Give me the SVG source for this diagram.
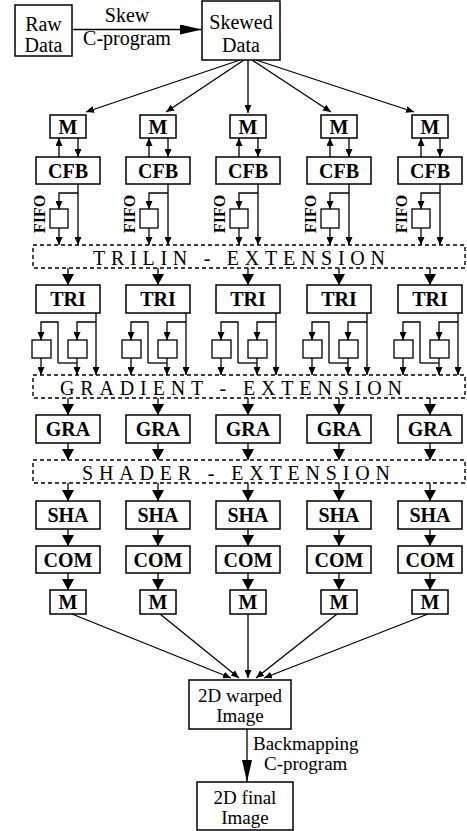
<svg xmlns="http://www.w3.org/2000/svg" width="467" height="831" viewBox="0 0 467 831">
<style>
.bx{fill:#fff;stroke:#000;stroke-width:1.5}
.sm{fill:#fff;stroke:#000;stroke-width:1.3}
.dx{fill:none;stroke:#000;stroke-width:1.4;stroke-dasharray:4 3}
.t{font-family:"Liberation Serif","Times New Roman",serif;font-size:20px;fill:#000;text-anchor:middle}
.t2{font-family:"Liberation Serif","Times New Roman",serif;font-size:19px;fill:#000;text-anchor:middle}
.b{font-family:"Liberation Serif","Times New Roman",serif;font-size:20px;font-weight:bold;fill:#000;text-anchor:middle}
.f{font-family:"Liberation Serif","Times New Roman",serif;font-size:16px;font-weight:bold;fill:#000;text-anchor:middle}
.e{font-family:"Liberation Serif","Times New Roman",serif;font-size:20px;fill:#000}
.e2{font-family:"Liberation Serif","Times New Roman",serif;font-size:19px;fill:#000}
.c path,.c line{fill:none;stroke:#000;stroke-width:1.3}
.s{marker-end:url(#ms)}
.g{marker-end:url(#mb)}
</style>
<defs>
<marker id="ms" markerUnits="userSpaceOnUse" markerWidth="9" markerHeight="7" refX="8" refY="3.5" orient="auto"><path d="M0,0 L8,3.5 L0,7 z" fill="#000"/></marker>
<marker id="mb" markerUnits="userSpaceOnUse" markerWidth="12" markerHeight="12" refX="11" refY="6" orient="auto"><path d="M0,0 L11,6 L0,12 z" fill="#000"/></marker>
<marker id="mh" markerUnits="userSpaceOnUse" markerWidth="24" markerHeight="12" refX="22" refY="5" orient="auto"><path d="M0,0 L22,5 L0,10 z" fill="#000"/></marker>
</defs>
<rect width="467" height="831" fill="#fff"/>

<g id="connectors" class="c">
<line x1="72" y1="29.5" x2="202" y2="29.5" marker-end="url(#mh)"/>
<line x1="240" y1="60" x2="86" y2="112" class="s"/>
<line x1="244" y1="60" x2="166" y2="112" class="s"/>
<line x1="248" y1="60" x2="248" y2="113" class="s"/>
<line x1="252" y1="60" x2="331" y2="112" class="s"/>
<line x1="256" y1="60" x2="414" y2="112" class="s"/>

<!-- col1 c=68 -->
<line x1="59" y1="157" x2="59" y2="138" class="s"/>
<line x1="78" y1="138" x2="78" y2="157" class="s"/>
<line x1="78" y1="184" x2="78" y2="245" class="s"/>
<path d="M78,193 H59 V209" class="s"/>
<line x1="59" y1="228" x2="59" y2="245" class="s"/>
<line x1="68" y1="268" x2="68" y2="285" class="g"/>
<line x1="96" y1="313" x2="96" y2="375" class="s"/>
<path d="M96,322 H77 V340" class="s"/>
<line x1="77" y1="358" x2="77" y2="375" class="s"/>
<path d="M58,363 H77"/>
<path d="M58,363 V322 H41 V340" class="s"/>
<line x1="41" y1="358" x2="41" y2="375" class="s"/>
<line x1="68" y1="398" x2="68" y2="415" class="g"/>
<line x1="68" y1="443" x2="68" y2="460" class="g"/>
<line x1="68" y1="483" x2="68" y2="501" class="g"/>
<line x1="68" y1="529" x2="68" y2="546" class="g"/>
<line x1="68" y1="573" x2="68" y2="590" class="g"/>
<line x1="72" y1="614" x2="231" y2="678" class="s"/>

<!-- col2 c=158 -->
<line x1="149" y1="157" x2="149" y2="138" class="s"/>
<line x1="168" y1="138" x2="168" y2="157" class="s"/>
<line x1="168" y1="184" x2="168" y2="245" class="s"/>
<path d="M168,193 H149 V209" class="s"/>
<line x1="149" y1="228" x2="149" y2="245" class="s"/>
<line x1="158" y1="268" x2="158" y2="285" class="g"/>
<line x1="186" y1="313" x2="186" y2="375" class="s"/>
<path d="M186,322 H167 V340" class="s"/>
<line x1="167" y1="358" x2="167" y2="375" class="s"/>
<path d="M148,363 H167"/>
<path d="M148,363 V322 H131 V340" class="s"/>
<line x1="131" y1="358" x2="131" y2="375" class="s"/>
<line x1="158" y1="398" x2="158" y2="415" class="g"/>
<line x1="158" y1="443" x2="158" y2="460" class="g"/>
<line x1="158" y1="483" x2="158" y2="501" class="g"/>
<line x1="158" y1="529" x2="158" y2="546" class="g"/>
<line x1="158" y1="573" x2="158" y2="590" class="g"/>
<line x1="160" y1="614" x2="239" y2="678" class="s"/>

<!-- col3 c=248 -->
<line x1="239" y1="157" x2="239" y2="138" class="s"/>
<line x1="258" y1="138" x2="258" y2="157" class="s"/>
<line x1="258" y1="184" x2="258" y2="245" class="s"/>
<path d="M258,193 H239 V209" class="s"/>
<line x1="239" y1="228" x2="239" y2="245" class="s"/>
<line x1="248" y1="268" x2="248" y2="285" class="g"/>
<line x1="276" y1="313" x2="276" y2="375" class="s"/>
<path d="M276,322 H257 V340" class="s"/>
<line x1="257" y1="358" x2="257" y2="375" class="s"/>
<path d="M238,363 H257"/>
<path d="M238,363 V322 H221 V340" class="s"/>
<line x1="221" y1="358" x2="221" y2="375" class="s"/>
<line x1="248" y1="398" x2="248" y2="415" class="g"/>
<line x1="248" y1="443" x2="248" y2="460" class="g"/>
<line x1="248" y1="483" x2="248" y2="501" class="g"/>
<line x1="248" y1="529" x2="248" y2="546" class="g"/>
<line x1="248" y1="573" x2="248" y2="590" class="g"/>
<line x1="248" y1="614" x2="248" y2="678" class="s"/>

<!-- col4 c=339 -->
<line x1="330" y1="157" x2="330" y2="138" class="s"/>
<line x1="349" y1="138" x2="349" y2="157" class="s"/>
<line x1="349" y1="184" x2="349" y2="245" class="s"/>
<path d="M349,193 H330 V209" class="s"/>
<line x1="330" y1="228" x2="330" y2="245" class="s"/>
<line x1="339" y1="268" x2="339" y2="285" class="g"/>
<line x1="367" y1="313" x2="367" y2="375" class="s"/>
<path d="M367,322 H348 V340" class="s"/>
<line x1="348" y1="358" x2="348" y2="375" class="s"/>
<path d="M329,363 H348"/>
<path d="M329,363 V322 H312 V340" class="s"/>
<line x1="312" y1="358" x2="312" y2="375" class="s"/>
<line x1="339" y1="398" x2="339" y2="415" class="g"/>
<line x1="339" y1="443" x2="339" y2="460" class="g"/>
<line x1="339" y1="483" x2="339" y2="501" class="g"/>
<line x1="339" y1="529" x2="339" y2="546" class="g"/>
<line x1="339" y1="573" x2="339" y2="590" class="g"/>
<line x1="337" y1="614" x2="256" y2="678" class="s"/>

<!-- col5 c=430 -->
<line x1="421" y1="157" x2="421" y2="138" class="s"/>
<line x1="440" y1="138" x2="440" y2="157" class="s"/>
<line x1="440" y1="184" x2="440" y2="245" class="s"/>
<path d="M440,193 H421 V209" class="s"/>
<line x1="421" y1="228" x2="421" y2="245" class="s"/>
<line x1="430" y1="268" x2="430" y2="285" class="g"/>
<line x1="458" y1="313" x2="458" y2="375" class="s"/>
<path d="M458,322 H439 V340" class="s"/>
<line x1="439" y1="358" x2="439" y2="375" class="s"/>
<path d="M420,363 H439"/>
<path d="M420,363 V322 H403 V340" class="s"/>
<line x1="403" y1="358" x2="403" y2="375" class="s"/>
<line x1="430" y1="398" x2="430" y2="415" class="g"/>
<line x1="430" y1="443" x2="430" y2="460" class="g"/>
<line x1="430" y1="483" x2="430" y2="501" class="g"/>
<line x1="430" y1="529" x2="430" y2="546" class="g"/>
<line x1="430" y1="573" x2="430" y2="590" class="g"/>
<line x1="428" y1="614" x2="264" y2="678" class="s"/>

<line x1="247" y1="729" x2="247" y2="782" marker-end="url(#mh)"/>
</g>

<text class="t" x="127" y="22">Skew</text>
<text class="t" x="127" y="45">C-program</text>
<text class="e2" x="253" y="750">Backmapping</text>
<text class="e2" x="264" y="770">C-program</text>

<g id="raw"><rect class="bx" x="15" y="5" width="57" height="51"/><text class="t" x="43.5" y="31">Raw</text><text class="t" x="43.5" y="52">Data</text></g>
<g id="skewed"><rect class="bx" x="202" y="1" width="78" height="59"/><text class="t" x="241" y="29">Skewed</text><text class="t" x="241" y="52">Data</text></g>

<g id="trilin"><rect class="dx" x="33" y="245" width="432" height="23"/><text class="e" x="93" y="265" textLength="292" lengthAdjust="spacing">TRILIN - EXTENSION</text></g>
<g id="gradient"><rect class="dx" x="33" y="375" width="432" height="23"/><text class="e" x="60" y="395" textLength="342" lengthAdjust="spacing">GRADIENT - EXTENSION</text></g>
<g id="shader"><rect class="dx" x="33" y="460" width="432" height="23"/><text class="e" x="82" y="480" textLength="308" lengthAdjust="spacing">SHADER - EXTENSION</text></g>

<!-- column 1 -->
<g id="m1"><rect class="bx" x="50" y="115" width="36" height="23"/><text class="b" x="68" y="133.5">M</text></g>
<g id="cfb1"><rect class="bx" x="36" y="157" width="64" height="27"/><text class="b" x="68" y="177.5">CFB</text></g>
<g id="fifo1"><rect class="sm" x="50" y="209" width="18" height="19"/><text class="f" transform="translate(45,214) rotate(-90)">FIFO</text></g>
<g id="tri1"><rect class="bx" x="36" y="285" width="64" height="28"/><text class="b" x="68" y="305.5">TRI</text></g>
<g id="d1a"><rect class="sm" x="32" y="340" width="19" height="18"/></g>
<g id="d1b"><rect class="sm" x="68" y="340" width="19" height="18"/></g>
<g id="gra1"><rect class="bx" x="36" y="415" width="64" height="28"/><text class="b" x="68" y="435.5">GRA</text></g>
<g id="sha1"><rect class="bx" x="36" y="501" width="64" height="28"/><text class="b" x="68" y="521.5">SHA</text></g>
<g id="com1"><rect class="bx" x="36" y="546" width="64" height="27"/><text class="b" x="68" y="566.5">COM</text></g>
<g id="mo1"><rect class="bx" x="50" y="590" width="36" height="24"/><text class="b" x="68" y="608.5">M</text></g>

<!-- column 2 -->
<g id="m2"><rect class="bx" x="140" y="115" width="36" height="23"/><text class="b" x="158" y="133.5">M</text></g>
<g id="cfb2"><rect class="bx" x="126" y="157" width="64" height="27"/><text class="b" x="158" y="177.5">CFB</text></g>
<g id="fifo2"><rect class="sm" x="140" y="209" width="18" height="19"/><text class="f" transform="translate(135,214) rotate(-90)">FIFO</text></g>
<g id="tri2"><rect class="bx" x="126" y="285" width="64" height="28"/><text class="b" x="158" y="305.5">TRI</text></g>
<g id="d2a"><rect class="sm" x="122" y="340" width="19" height="18"/></g>
<g id="d2b"><rect class="sm" x="158" y="340" width="19" height="18"/></g>
<g id="gra2"><rect class="bx" x="126" y="415" width="64" height="28"/><text class="b" x="158" y="435.5">GRA</text></g>
<g id="sha2"><rect class="bx" x="126" y="501" width="64" height="28"/><text class="b" x="158" y="521.5">SHA</text></g>
<g id="com2"><rect class="bx" x="126" y="546" width="64" height="27"/><text class="b" x="158" y="566.5">COM</text></g>
<g id="mo2"><rect class="bx" x="140" y="590" width="36" height="24"/><text class="b" x="158" y="608.5">M</text></g>

<!-- column 3 -->
<g id="m3"><rect class="bx" x="230" y="115" width="36" height="23"/><text class="b" x="248" y="133.5">M</text></g>
<g id="cfb3"><rect class="bx" x="216" y="157" width="64" height="27"/><text class="b" x="248" y="177.5">CFB</text></g>
<g id="fifo3"><rect class="sm" x="230" y="209" width="18" height="19"/><text class="f" transform="translate(225,214) rotate(-90)">FIFO</text></g>
<g id="tri3"><rect class="bx" x="216" y="285" width="64" height="28"/><text class="b" x="248" y="305.5">TRI</text></g>
<g id="d3a"><rect class="sm" x="212" y="340" width="19" height="18"/></g>
<g id="d3b"><rect class="sm" x="248" y="340" width="19" height="18"/></g>
<g id="gra3"><rect class="bx" x="216" y="415" width="64" height="28"/><text class="b" x="248" y="435.5">GRA</text></g>
<g id="sha3"><rect class="bx" x="216" y="501" width="64" height="28"/><text class="b" x="248" y="521.5">SHA</text></g>
<g id="com3"><rect class="bx" x="216" y="546" width="64" height="27"/><text class="b" x="248" y="566.5">COM</text></g>
<g id="mo3"><rect class="bx" x="230" y="590" width="36" height="24"/><text class="b" x="248" y="608.5">M</text></g>

<!-- column 4 -->
<g id="m4"><rect class="bx" x="321" y="115" width="36" height="23"/><text class="b" x="339" y="133.5">M</text></g>
<g id="cfb4"><rect class="bx" x="307" y="157" width="64" height="27"/><text class="b" x="339" y="177.5">CFB</text></g>
<g id="fifo4"><rect class="sm" x="321" y="209" width="18" height="19"/><text class="f" transform="translate(316,214) rotate(-90)">FIFO</text></g>
<g id="tri4"><rect class="bx" x="307" y="285" width="64" height="28"/><text class="b" x="339" y="305.5">TRI</text></g>
<g id="d4a"><rect class="sm" x="303" y="340" width="19" height="18"/></g>
<g id="d4b"><rect class="sm" x="339" y="340" width="19" height="18"/></g>
<g id="gra4"><rect class="bx" x="307" y="415" width="64" height="28"/><text class="b" x="339" y="435.5">GRA</text></g>
<g id="sha4"><rect class="bx" x="307" y="501" width="64" height="28"/><text class="b" x="339" y="521.5">SHA</text></g>
<g id="com4"><rect class="bx" x="307" y="546" width="64" height="27"/><text class="b" x="339" y="566.5">COM</text></g>
<g id="mo4"><rect class="bx" x="321" y="590" width="36" height="24"/><text class="b" x="339" y="608.5">M</text></g>

<!-- column 5 -->
<g id="m5"><rect class="bx" x="412" y="115" width="36" height="23"/><text class="b" x="430" y="133.5">M</text></g>
<g id="cfb5"><rect class="bx" x="398" y="157" width="64" height="27"/><text class="b" x="430" y="177.5">CFB</text></g>
<g id="fifo5"><rect class="sm" x="412" y="209" width="18" height="19"/><text class="f" transform="translate(407,214) rotate(-90)">FIFO</text></g>
<g id="tri5"><rect class="bx" x="398" y="285" width="64" height="28"/><text class="b" x="430" y="305.5">TRI</text></g>
<g id="d5a"><rect class="sm" x="394" y="340" width="19" height="18"/></g>
<g id="d5b"><rect class="sm" x="430" y="340" width="19" height="18"/></g>
<g id="gra5"><rect class="bx" x="398" y="415" width="64" height="28"/><text class="b" x="430" y="435.5">GRA</text></g>
<g id="sha5"><rect class="bx" x="398" y="501" width="64" height="28"/><text class="b" x="430" y="521.5">SHA</text></g>
<g id="com5"><rect class="bx" x="398" y="546" width="64" height="27"/><text class="b" x="430" y="566.5">COM</text></g>
<g id="mo5"><rect class="bx" x="412" y="590" width="36" height="24"/><text class="b" x="430" y="608.5">M</text></g>

<g id="warped"><rect class="bx" x="189" y="680" width="102" height="49"/><text class="t2" x="240" y="702">2D warped</text><text class="t2" x="240" y="722">Image</text></g>
<g id="final"><rect class="bx" x="197" y="782" width="96" height="48"/><text class="t2" x="245" y="804">2D final</text><text class="t2" x="245" y="824">Image</text></g>
</svg>
